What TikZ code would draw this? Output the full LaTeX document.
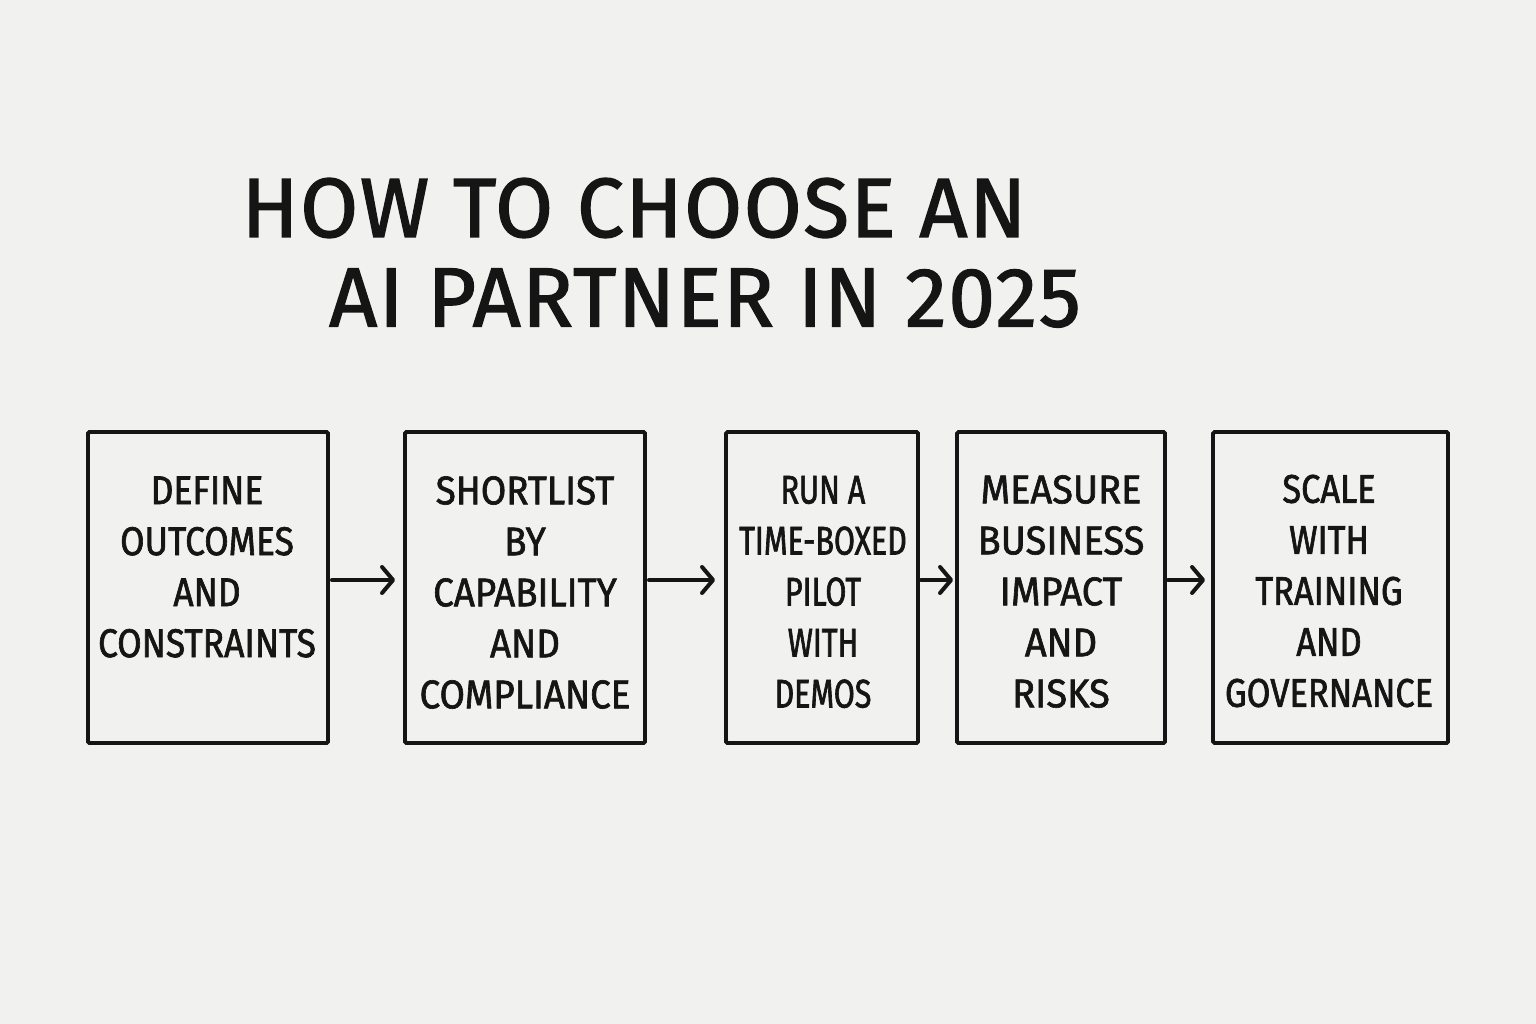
\documentclass[tikz,border=0pt]{standalone}
\usepackage{fontspec}
\setmainfont{Fira Sans}
\newfontfamily\titlefont[FakeBold=1.6, LetterSpace=1.8]{Fira Sans}
\newfontfamily\boxfont[FakeStretch=0.92, FakeBold=1.6]{Fira Sans}
\newfontfamily\boxfonta[FakeStretch=0.885, FakeBold=1.6]{Fira Sans}
\newfontfamily\boxfontd[FakeStretch=0.95, FakeBold=1.6]{Fira Sans}
\newfontfamily\boxfontnarrow[FakeStretch=0.76, FakeBold=1.6]{Fira Sans}
\newfontfamily\boxfontmid[FakeStretch=0.86, FakeBold=1.6]{Fira Sans}
\usetikzlibrary{arrows.meta}
\definecolor{bg}{HTML}{F1F1F0}
\definecolor{ink}{HTML}{151515}
\tikzset{
  stepbox/.style={draw=ink, line width=3.9pt, rounded corners=1.5pt, minimum width=#1, minimum height=311pt, inner sep=0pt},
  steptext/.style={text=ink, font=\boxfont\fontsize{40}{51}\selectfont, align=center, inner sep=0pt, anchor=center},
  titletext/.style={text=ink, font=\titlefont\fontsize{84}{90}\selectfont, inner sep=0pt},
  flow/.style={draw=ink, line width=4pt, line cap=round, -{Straight Barb[length=11pt, width=26pt, line width=4pt, round]}}
}
\begin{document}
\begin{tikzpicture}[x=1pt, y=-1pt]
\fill[bg] (0,0) rectangle (1536,1024);
\useasboundingbox (0,0) rectangle (1536,1024);

\node[titletext] (t1) at (634,208) {HOW TO CHOOSE AN};
\node[titletext] (t2) at (705,298) {AI PARTNER IN 2025};

\node[stepbox=240pt] (b1) at (208,587.5) {};
\node[stepbox=240pt] (b2) at (525,587.5) {};
\node[stepbox=192pt] (b3) at (822,587.5) {};
\node[stepbox=208pt] (b4) at (1061,587.5) {};
\node[stepbox=235pt] (b5) at (1330.5,587.5) {};

\node[steptext, font=\boxfonta\fontsize{40}{51}\selectfont] (s1) at (207,567) {DEFINE\\OUTCOMES\\AND\\CONSTRAINTS};
\node[steptext] (s2) at (525,592.5) {SHORTLIST\\BY\\CAPABILITY\\AND\\COMPLIANCE};
\node[steptext, font=\boxfontnarrow\fontsize{40}{51}\selectfont] (s3) at (823,592) {RUN A\\TIME-BOXED\\PILOT\\WITH\\DEMOS};
\node[steptext, font=\boxfontd\fontsize{40}{51}\selectfont] (s4) at (1061,591.5) {MEASURE\\BUSINESS\\IMPACT\\AND\\RISKS};
\node[steptext, font=\boxfontmid\fontsize{40}{51}\selectfont] (s5) at (1329,591) {SCALE\\WITH\\TRAINING\\AND\\GOVERNANCE};

\draw[flow, shorten <=2pt, shorten >=8pt] (b1.east |- 0,580) -- (b2.west |- 0,580);
\draw[flow, shorten <=2pt, shorten >=9pt] (b2.east |- 0,580) -- (b3.west |- 0,580);
\draw[flow, shorten <=1pt, shorten >=2pt] (b3.east |- 0,580) -- (b4.west |- 0,580);
\draw[flow, shorten <=1pt, shorten >=6pt] (b4.east |- 0,580) -- (b5.west |- 0,580);
\end{tikzpicture}
\end{document}
